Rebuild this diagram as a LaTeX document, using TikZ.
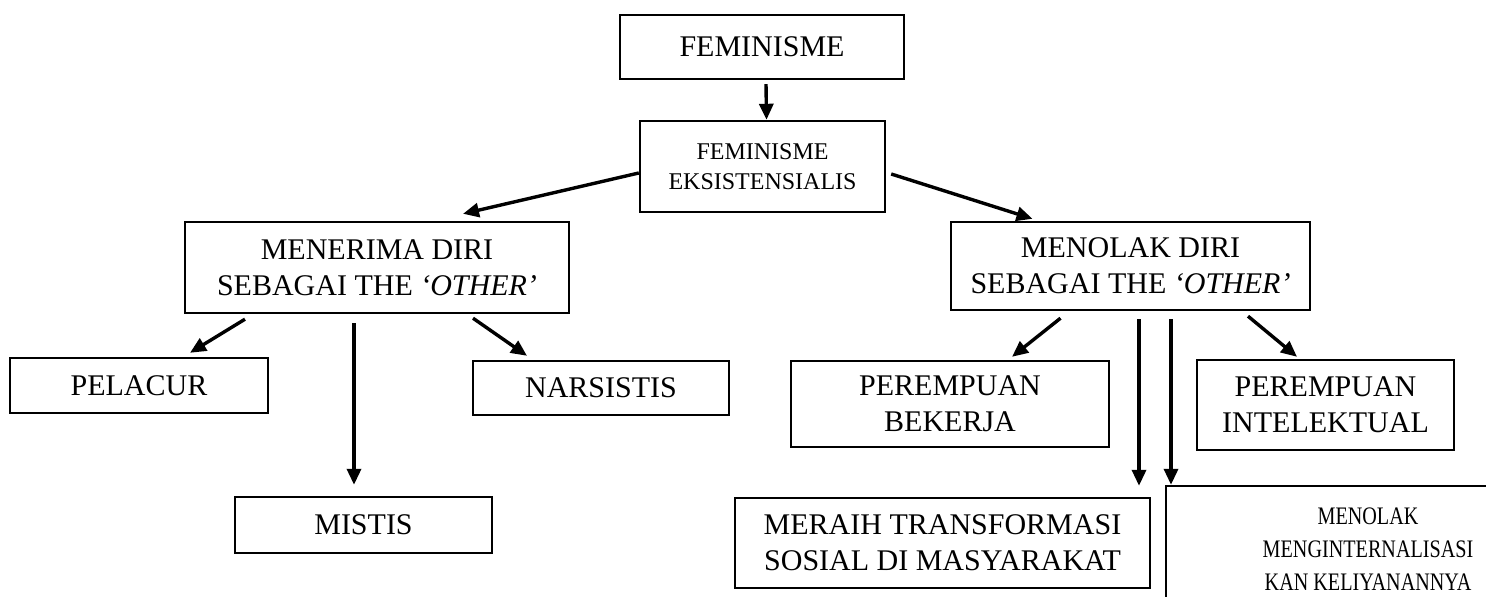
\documentclass[tikz,border=0pt]{standalone}
\usepackage{fontspec}
\setmainfont{Liberation Serif}
\newfontfamily\sempit[FakeStretch=0.8]{Liberation Serif}
\usetikzlibrary{arrows.meta,positioning}

\begin{document}
\begin{tikzpicture}[
  x=0.5pt, y=-0.5pt,
  every node/.style={draw, rectangle, align=center, inner sep=0pt,
                     line width=1.2pt, font=\fontsize{15}{18}\selectfont},
  arrow/.style={-{Triangle[length=8pt,width=7pt]}, line width=1.7pt}
]
\useasboundingbox (0,0) rectangle (1486,597);

\node (fem)     at (762,47)      [minimum width=142pt, minimum height=32pt] {FEMINISME};
\node (eks)     at (762.5,166.5) [minimum width=122.5pt, minimum height=45.5pt,
                                  font=\fontsize{12}{14.7}\selectfont] {FEMINISME\\EKSISTENSIALIS};
\node (terima)  at (377,267.5)   [minimum width=192pt, minimum height=45.5pt]
                {MENERIMA DIRI\\SEBAGAI THE \textit{`OTHER'}};
\node (tolak)   at (1130.5,266)  [minimum width=179.5pt, minimum height=44pt]
                {MENOLAK DIRI\\SEBAGAI THE \textit{`OTHER'}};

% cabang kiri
\node (pelacur) at (139,385.5)   [minimum width=129pt, minimum height=27.5pt] {PELACUR};
\node (mistis)  at (363.5,525)   [minimum width=128.5pt, minimum height=28pt] {MISTIS};
\node (narsis)  at (601,388)     [minimum width=128pt, minimum height=27pt] {NARSISTIS};

% cabang kanan
\node (kerja)   at (950,404)     [minimum width=159pt, minimum height=43pt] {PEREMPUAN\\BEKERJA};
\node (intel)   at (1325.5,405)  [minimum width=128.5pt, minimum height=45pt] {PEREMPUAN\\INTELEKTUAL};
\node (meraih)  at (942.5,543)   [minimum width=207.5pt, minimum height=45pt]
                {MERAIH TRANSFORMASI\\SOSIAL DI MASYARAKAT};
\node (liyan)   at (1368,549)    [minimum width=202pt, minimum height=63pt,
                                  font=\sempit\fontsize{12.6}{16.5}\selectfont]
                {MENOLAK\\MENGINTERNALISASI\\KAN KELIYANANNYA};

\draw[arrow] ([xshift=2pt,yshift=-2pt]fem.south) -- ([xshift=2pt]eks.north);
\draw[arrow] ([yshift=-3.25pt]eks.west) -- ([xshift=43pt,yshift=3.5pt]terima.north);
\draw[arrow] ([xshift=2.5pt,yshift=-3.75pt]eks.east) -- ([xshift=-49pt,yshift=1pt]tolak.north);

\draw[arrow] ([xshift=-66pt,yshift=-2.5pt]terima.south) -- ([xshift=25.5pt,yshift=2pt]pelacur.north);
\draw[arrow] ([xshift=-11.5pt,yshift=-4.5pt]terima.south) -- ([xshift=-4.75pt,yshift=5.5pt]mistis.north);
\draw[arrow] ([xshift=48pt,yshift=-2pt]terima.south) -- ([xshift=-37pt,yshift=2pt]narsis.north);

\draw[arrow] ([xshift=-35pt,yshift=-3.5pt]tolak.south) -- ([xshift=31pt,yshift=1.5pt]kerja.north);
\draw[arrow] ([xshift=4.25pt,yshift=-4pt]tolak.south) -- ([xshift=98.25pt,yshift=5.5pt]meraih.north);
\draw[arrow] ([xshift=20.25pt,yshift=-4pt]tolak.south) -- ([xshift=-98.5pt]liyan.north);
\draw[arrow] ([xshift=58.75pt,yshift=-2.5pt]tolak.south) -- ([xshift=-14.25pt,yshift=1pt]intel.north);
\end{tikzpicture}
\end{document}
